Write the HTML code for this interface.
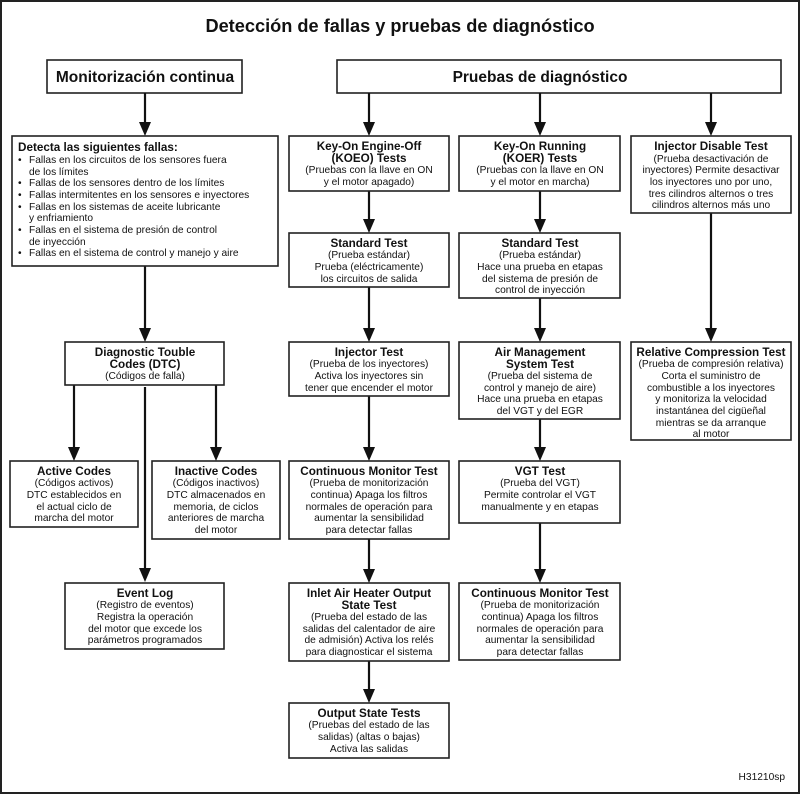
<!DOCTYPE html>
<html><head><meta charset="utf-8"><style>
html,body{margin:0;padding:0;background:#fff}
svg{display:block}
text{font-family:"Liberation Sans",Arial,sans-serif;fill:#111;text-anchor:middle}
.b{font-weight:bold;font-size:11.7px}
.r{font-size:10.2px}
rect{fill:#fff;stroke:#222;stroke-width:1.6}
line{stroke:#111;stroke-width:2.2}
</style></head><body>
<svg width="800" height="795" viewBox="0 0 800 795" xmlns="http://www.w3.org/2000/svg">
<rect x="1" y="1" width="798" height="792" style="stroke-width:2"/>
<text x="400" y="32" style="font-weight:bold;font-size:18.2px">Detección de fallas y pruebas de diagnóstico</text>
<rect x="47" y="60" width="195" height="33"/>
<text x="145" y="82" style="font-weight:bold;font-size:15.5px">Monitorización continua</text>
<rect x="337" y="60" width="444" height="33"/>
<text x="540" y="82" style="font-weight:bold;font-size:15.5px">Pruebas de diagnóstico</text>

<g id="arrows">
<line x1="145" y1="93" x2="145" y2="124"/><polygon points="139,122 151,122 145,136" fill="#111"/>
<line x1="369" y1="93" x2="369" y2="124"/><polygon points="363,122 375,122 369,136" fill="#111"/>
<line x1="540" y1="93" x2="540" y2="124"/><polygon points="534,122 546,122 540,136" fill="#111"/>
<line x1="711" y1="93" x2="711" y2="124"/><polygon points="705,122 717,122 711,136" fill="#111"/>
<line x1="145" y1="266" x2="145" y2="330"/><polygon points="139,328 151,328 145,342" fill="#111"/>
<line x1="74" y1="385" x2="74" y2="449"/><polygon points="68,447 80,447 74,461" fill="#111"/>
<line x1="216" y1="385" x2="216" y2="449"/><polygon points="210,447 222,447 216,461" fill="#111"/>
<line x1="145" y1="387" x2="145" y2="570"/><polygon points="139,568 151,568 145,582" fill="#111"/>
<line x1="369" y1="191" x2="369" y2="221"/><polygon points="363,219 375,219 369,233" fill="#111"/>
<line x1="369" y1="287" x2="369" y2="330"/><polygon points="363,328 375,328 369,342" fill="#111"/>
<line x1="369" y1="396" x2="369" y2="449"/><polygon points="363,447 375,447 369,461" fill="#111"/>
<line x1="369" y1="539" x2="369" y2="571"/><polygon points="363,569 375,569 369,583" fill="#111"/>
<line x1="369" y1="661" x2="369" y2="691"/><polygon points="363,689 375,689 369,703" fill="#111"/>
<line x1="540" y1="191" x2="540" y2="221"/><polygon points="534,219 546,219 540,233" fill="#111"/>
<line x1="540" y1="298" x2="540" y2="330"/><polygon points="534,328 546,328 540,342" fill="#111"/>
<line x1="540" y1="419" x2="540" y2="449"/><polygon points="534,447 546,447 540,461" fill="#111"/>
<line x1="540" y1="523" x2="540" y2="571"/><polygon points="534,569 546,569 540,583" fill="#111"/>
<line x1="711" y1="213" x2="711" y2="330"/><polygon points="705,328 717,328 711,342" fill="#111"/>
</g>

<rect x="12" y="136" width="266" height="130"/>
<text x="18" y="151" class="b" style="text-anchor:start">Detecta las siguientes fallas:</text>
<text x="18" y="163" class="r" style="text-anchor:start">•</text><text x="29" y="163" class="r" style="text-anchor:start">Fallas en los circuitos de los sensores fuera</text>
<text x="29" y="175" class="r" style="text-anchor:start">de los límites</text>
<text x="18" y="186" class="r" style="text-anchor:start">•</text><text x="29" y="186" class="r" style="text-anchor:start">Fallas de los sensores dentro de los límites</text>
<text x="18" y="198" class="r" style="text-anchor:start">•</text><text x="29" y="198" class="r" style="text-anchor:start">Fallas intermitentes en los sensores e inyectores</text>
<text x="18" y="210" class="r" style="text-anchor:start">•</text><text x="29" y="210" class="r" style="text-anchor:start">Fallas en los sistemas de aceite lubricante</text>
<text x="29" y="221" class="r" style="text-anchor:start">y enfriamiento</text>
<text x="18" y="233" class="r" style="text-anchor:start">•</text><text x="29" y="233" class="r" style="text-anchor:start">Fallas en el sistema de presión de control</text>
<text x="29" y="245" class="r" style="text-anchor:start">de inyección</text>
<text x="18" y="256" class="r" style="text-anchor:start">•</text><text x="29" y="256" class="r" style="text-anchor:start">Fallas en el sistema de control y manejo y aire</text>

<rect x="289" y="136" width="160" height="55"/>
<text x="369" y="150" class="b">Key-On Engine-Off</text>
<text x="369" y="162" class="b">(KOEO) Tests</text>
<text x="369" y="173" class="r">(Pruebas con la llave en ON</text>
<text x="369" y="185" class="r">y el motor apagado)</text>

<rect x="459" y="136" width="161" height="55"/>
<text x="540" y="150" class="b">Key-On Running</text>
<text x="540" y="162" class="b">(KOER) Tests</text>
<text x="540" y="173" class="r">(Pruebas con la llave en ON</text>
<text x="540" y="185" class="r">y el motor en marcha)</text>

<rect x="631" y="136" width="160" height="77"/>
<text x="711" y="150" class="b">Injector Disable Test</text>
<text x="711" y="162" class="r">(Prueba desactivación de</text>
<text x="711" y="173" class="r">inyectores) Permite desactivar</text>
<text x="711" y="185" class="r">los inyectores uno por uno,</text>
<text x="711" y="197" class="r">tres cilindros alternos o tres</text>
<text x="711" y="208" class="r">cilindros alternos más uno</text>

<rect x="289" y="233" width="160" height="54"/>
<text x="369" y="247" class="b">Standard Test</text>
<text x="369" y="258" class="r">(Prueba estándar)</text>
<text x="369" y="270" class="r">Prueba (eléctricamente)</text>
<text x="369" y="282" class="r">los circuitos de salida</text>

<rect x="459" y="233" width="161" height="65"/>
<text x="540" y="247" class="b">Standard Test</text>
<text x="540" y="258" class="r">(Prueba estándar)</text>
<text x="540" y="270" class="r">Hace una prueba en etapas</text>
<text x="540" y="282" class="r">del sistema de presión de</text>
<text x="540" y="293" class="r">control de inyección</text>

<rect x="65" y="342" width="159" height="43"/>
<text x="145" y="356" class="b">Diagnostic Touble</text>
<text x="145" y="368" class="b">Codes (DTC)</text>
<text x="145" y="379" class="r">(Códigos de falla)</text>

<rect x="289" y="342" width="160" height="54"/>
<text x="369" y="356" class="b">Injector Test</text>
<text x="369" y="367" class="r">(Prueba de los inyectores)</text>
<text x="369" y="379" class="r">Activa los inyectores sin</text>
<text x="369" y="391" class="r">tener que encender el motor</text>

<rect x="459" y="342" width="161" height="77"/>
<text x="540" y="356" class="b">Air Management</text>
<text x="540" y="368" class="b">System Test</text>
<text x="540" y="379" class="r">(Prueba del sistema de</text>
<text x="540" y="391" class="r">control y manejo de aire)</text>
<text x="540" y="402" class="r">Hace una prueba en etapas</text>
<text x="540" y="414" class="r">del VGT y del EGR</text>

<rect x="631" y="342" width="160" height="98"/>
<text x="711" y="356" class="b">Relative Compression Test</text>
<text x="711" y="367" class="r">(Prueba de compresión relativa)</text>
<text x="711" y="379" class="r">Corta el suministro de</text>
<text x="711" y="391" class="r">combustible a los inyectores</text>
<text x="711" y="402" class="r">y monitoriza la velocidad</text>
<text x="711" y="414" class="r">instantánea del cigüeñal</text>
<text x="711" y="426" class="r">mientras se da arranque</text>
<text x="711" y="437" class="r">al motor</text>

<rect x="10" y="461" width="128" height="66"/>
<text x="74" y="475" class="b">Active Codes</text>
<text x="74" y="486" class="r">(Códigos activos)</text>
<text x="74" y="498" class="r">DTC establecidos en</text>
<text x="74" y="510" class="r">el actual ciclo de</text>
<text x="74" y="521" class="r">marcha del motor</text>

<rect x="152" y="461" width="128" height="78"/>
<text x="216" y="475" class="b">Inactive Codes</text>
<text x="216" y="486" class="r">(Códigos inactivos)</text>
<text x="216" y="498" class="r">DTC almacenados en</text>
<text x="216" y="510" class="r">memoria, de ciclos</text>
<text x="216" y="521" class="r">anteriores de marcha</text>
<text x="216" y="533" class="r">del motor</text>

<rect x="289" y="461" width="160" height="78"/>
<text x="369" y="475" class="b">Continuous Monitor Test</text>
<text x="369" y="486" class="r">(Prueba de monitorización</text>
<text x="369" y="498" class="r">continua) Apaga los filtros</text>
<text x="369" y="510" class="r">normales de operación para</text>
<text x="369" y="521" class="r">aumentar la sensibilidad</text>
<text x="369" y="533" class="r">para detectar fallas</text>

<rect x="459" y="461" width="161" height="62"/>
<text x="540" y="475" class="b">VGT Test</text>
<text x="540" y="486" class="r">(Prueba del VGT)</text>
<text x="540" y="498" class="r">Permite controlar el VGT</text>
<text x="540" y="510" class="r">manualmente y en etapas</text>

<rect x="65" y="583" width="159" height="66"/>
<text x="145" y="597" class="b">Event Log</text>
<text x="145" y="608" class="r">(Registro de eventos)</text>
<text x="145" y="620" class="r">Registra la operación</text>
<text x="145" y="632" class="r">del motor que excede los</text>
<text x="145" y="643" class="r">parámetros programados</text>

<rect x="289" y="583" width="160" height="78"/>
<text x="369" y="597" class="b">Inlet Air Heater Output</text>
<text x="369" y="609" class="b">State Test</text>
<text x="369" y="620" class="r">(Prueba del estado de las</text>
<text x="369" y="632" class="r">salidas del calentador de aire</text>
<text x="369" y="643" class="r">de admisión) Activa los relés</text>
<text x="369" y="655" class="r">para diagnosticar el sistema</text>

<rect x="459" y="583" width="161" height="77"/>
<text x="540" y="597" class="b">Continuous Monitor Test</text>
<text x="540" y="608" class="r">(Prueba de monitorización</text>
<text x="540" y="620" class="r">continua) Apaga los filtros</text>
<text x="540" y="632" class="r">normales de operación para</text>
<text x="540" y="643" class="r">aumentar la sensibilidad</text>
<text x="540" y="655" class="r">para detectar fallas</text>

<rect x="289" y="703" width="160" height="55"/>
<text x="369" y="717" class="b">Output State Tests</text>
<text x="369" y="728" class="r">(Pruebas del estado de las</text>
<text x="369" y="740" class="r">salidas) (altas o bajas)</text>
<text x="369" y="752" class="r">Activa las salidas</text>

<text x="785" y="780" class="r" style="text-anchor:end">H31210sp</text>
</svg>
</body></html>
